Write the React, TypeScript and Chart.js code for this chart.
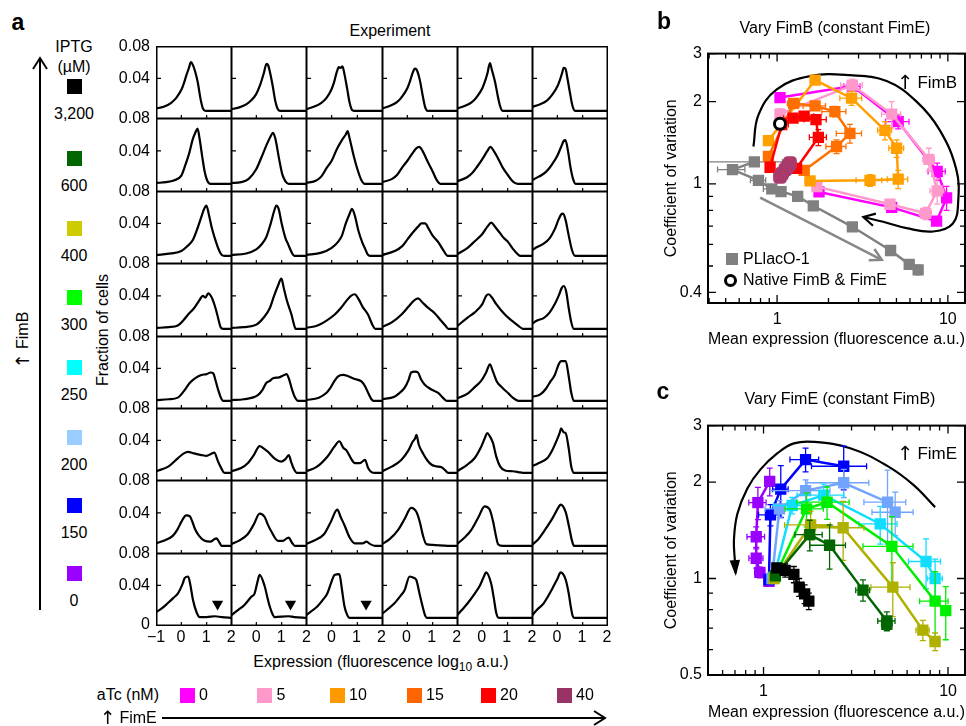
import React, { useEffect, useRef } from 'react';
import { Chart, registerables } from 'chart.js';

Chart.register(...registerables);

const FONT = '"Liberation Sans", Arial, Helvetica, sans-serif';
const FS = 16;

// ---------------- Panel a data ----------------
const ATC_LABELS = ['0', '5', '10', '15', '20', '40'];
const ATC_COLORS = ['#ff00ff', '#ff99cc', '#ff9900', '#ff6600', '#ff0000', '#993366'];
const IPTG_LABELS = ['3,200', '600', '400', '300', '250', '200', '150', '0'];
const IPTG_COLORS = ['#000000', '#006600', '#cccc00', '#00ff00', '#00ffff', '#99ccff', '#0000ff', '#9900ff'];
const HIST_X_TICKS = [-1, 0, 1, 2];
const HIST_X_MIN = -1;
const HIST_X_MAX = 2;
const HIST_Y_MIN = -0.01;
const HIST_Y_MAX = 0.08;
const HIST_Y_TICKS = [0.04, 0.08];

type Pt = [number, number];

const HIST_IPTG_3200: Pt[][] = [
  [[-1,0.003],[-0.7,0.005],[-0.4,0.01],[-0.2,0.016],[0,0.026],[0.1,0.034],[0.2,0.044],[0.3,0.053],[0.38,0.06],[0.45,0.057],[0.55,0.048],[0.65,0.035],[0.75,0.016],[0.85,0.003],[0.95,0],[2,0]],
  [[-1,0.002],[-0.7,0.004],[-0.4,0.008],[-0.2,0.013],[0,0.021],[0.15,0.032],[0.3,0.047],[0.4,0.058],[0.47,0.056],[0.55,0.046],[0.65,0.03],[0.75,0.012],[0.85,0.002],[0.95,0],[2,0]],
  [[-1,0.002],[-0.7,0.005],[-0.4,0.01],[-0.2,0.016],[0,0.027],[0.1,0.036],[0.2,0.048],[0.28,0.054],[0.35,0.053],[0.42,0.055],[0.5,0.045],[0.6,0.028],[0.7,0.01],[0.8,0.001],[0.9,0],[2,0]],
  [[-1,0.003],[-0.7,0.006],[-0.4,0.011],[-0.2,0.018],[0,0.028],[0.1,0.036],[0.2,0.046],[0.3,0.052],[0.38,0.05],[0.5,0.037],[0.6,0.02],[0.7,0.005],[0.8,0],[2,0]],
  [[-1,0.003],[-0.7,0.006],[-0.4,0.011],[-0.2,0.018],[0,0.028],[0.1,0.036],[0.2,0.046],[0.3,0.059],[0.38,0.05],[0.5,0.036],[0.6,0.02],[0.7,0.006],[0.8,0],[2,0]],
  [[-1,0.005],[-0.7,0.008],[-0.4,0.013],[-0.2,0.02],[0,0.03],[0.1,0.038],[0.2,0.048],[0.25,0.053],[0.32,0.052],[0.4,0.04],[0.5,0.022],[0.6,0.006],[0.7,0],[2,0]],
];
const HIST_IPTG_600: Pt[][] = [
  [[-1,0.001],[-0.6,0.002],[-0.3,0.004],[0,0.01],[0.15,0.022],[0.3,0.036],[0.45,0.054],[0.55,0.062],[0.64,0.067],[0.72,0.055],[0.82,0.034],[0.92,0.015],[1.02,0.004],[1.15,0],[2,0]],
  [[-1,0.001],[-0.6,0.002],[-0.3,0.006],[0,0.018],[0.2,0.032],[0.4,0.047],[0.55,0.057],[0.66,0.062],[0.75,0.055],[0.9,0.03],[1.02,0.012],[1.15,0.003],[1.28,0],[2,0]],
  [[-1,0.001],[-0.6,0.004],[-0.4,0.009],[-0.2,0.019],[0,0.028],[0.2,0.042],[0.4,0.053],[0.55,0.06],[0.62,0.064],[0.7,0.055],[0.85,0.035],[1.0,0.018],[1.15,0.005],[1.29,0],[2,0]],
  [[-1,0.002],[-0.6,0.006],[-0.4,0.011],[-0.2,0.02],[0,0.028],[0.2,0.037],[0.35,0.043],[0.47,0.045],[0.6,0.04],[0.8,0.027],[1.0,0.015],[1.15,0.005],[1.3,0],[2,0]],
  [[-1,0.003],[-0.6,0.008],[-0.4,0.013],[-0.2,0.021],[0,0.03],[0.2,0.04],[0.32,0.045],[0.45,0.04],[0.6,0.032],[0.8,0.02],[1.0,0.011],[1.2,0.003],[1.4,0],[2,0]],
  [[-1,0.004],[-0.9,0.006],[-0.6,0.011],[-0.4,0.016],[-0.2,0.024],[0,0.034],[0.15,0.045],[0.25,0.052],[0.32,0.053],[0.42,0.04],[0.52,0.02],[0.62,0.006],[0.72,0],[2,0]],
];
const HIST_IPTG_400: Pt[][] = [
  [[-1,0.001],[-0.4,0.003],[0,0.006],[0.2,0.011],[0.46,0.02],[0.65,0.035],[0.79,0.048],[0.9,0.058],[0.99,0.062],[1.08,0.052],[1.2,0.035],[1.39,0.015],[1.5,0.006],[1.6,0.001],[1.7,0],[2,0]],
  [[-1,0.001],[-0.4,0.003],[0,0.008],[0.2,0.014],[0.39,0.023],[0.55,0.038],[0.7,0.055],[0.79,0.062],[0.88,0.058],[1.0,0.04],[1.15,0.022],[1.26,0.014],[1.4,0.004],[1.5,0],[2,0]],
  [[-1,0.001],[-0.4,0.004],[0,0.01],[0.24,0.017],[0.4,0.025],[0.55,0.04],[0.7,0.052],[0.79,0.058],[0.9,0.05],[1.05,0.03],[1.2,0.016],[1.3,0.009],[1.4,0.002],[1.5,0],[2,0]],
  [[-1,0.001],[-0.5,0.006],[-0.2,0.012],[0.02,0.021],[0.25,0.03],[0.45,0.037],[0.55,0.04],[0.7,0.04],[0.85,0.033],[1.0,0.025],[1.22,0.017],[1.4,0.008],[1.6,0],[2,0]],
  [[-1,0.002],[-0.58,0.01],[-0.3,0.018],[0,0.027],[0.2,0.036],[0.35,0.041],[0.5,0.036],[0.7,0.028],[0.85,0.022],[1.02,0.017],[1.2,0.009],[1.4,0.002],[1.5,0],[2,0]],
  [[-1,0.007],[-0.8,0.011],[-0.54,0.015],[-0.3,0.022],[-0.1,0.033],[0.05,0.045],[0.15,0.051],[0.22,0.052],[0.32,0.045],[0.45,0.025],[0.58,0.007],[0.7,0],[2,0]],
];
const HIST_IPTG_300: Pt[][] = [
  [[-1,0.001],[-0.5,0.002],[-0.14,0.004],[0.1,0.011],[0.26,0.017],[0.5,0.025],[0.7,0.034],[0.85,0.04],[0.95,0.038],[1.06,0.043],[1.2,0.038],[1.35,0.025],[1.46,0.012],[1.55,0.002],[1.65,0],[2,0]],
  [[-1,0.001],[-0.5,0.002],[0,0.005],[0.3,0.014],[0.53,0.025],[0.7,0.04],[0.85,0.052],[0.99,0.061],[1.08,0.05],[1.2,0.035],[1.39,0.017],[1.48,0.006],[1.55,0],[2,0]],
  [[-1,0.001],[-0.55,0.004],[-0.2,0.01],[0.11,0.017],[0.35,0.025],[0.55,0.033],[0.75,0.04],[0.9,0.042],[1.05,0.036],[1.2,0.027],[1.42,0.017],[1.6,0.004],[1.7,0],[2,0]],
  [[-1,0.002],[-0.6,0.008],[-0.24,0.017],[0.05,0.027],[0.25,0.034],[0.42,0.037],[0.6,0.032],[0.8,0.026],[1.08,0.019],[1.3,0.011],[1.5,0.004],[1.62,0],[2,0]],
  [[-1,0.003],[-0.57,0.014],[-0.3,0.02],[0,0.03],[0.15,0.04],[0.25,0.042],[0.38,0.038],[0.55,0.03],[0.9,0.017],[1.2,0.009],[1.45,0.003],[1.6,0],[2,0]],
  [[-1,0.006],[-0.8,0.01],[-0.54,0.013],[-0.3,0.02],[-0.1,0.03],[0.05,0.04],[0.18,0.05],[0.26,0.052],[0.35,0.045],[0.45,0.025],[0.55,0.008],[0.65,0],[2,0]],
];
const HIST_IPTG_250: Pt[][] = [
  [[-1,0.001],[-0.5,0.002],[-0.14,0.004],[0.1,0.012],[0.33,0.022],[0.55,0.028],[0.79,0.032],[1.0,0.033],[1.15,0.035],[1.26,0.034],[1.36,0.024],[1.46,0.013],[1.56,0.004],[1.65,0],[2,0]],
  [[-1,0.001],[-0.5,0.002],[0.06,0.007],[0.25,0.014],[0.39,0.022],[0.55,0.025],[0.66,0.028],[0.9,0.029],[1.1,0.032],[1.19,0.033],[1.3,0.026],[1.39,0.016],[1.5,0.006],[1.65,0],[2,0]],
  [[-1,0.001],[-0.5,0.004],[-0.2,0.01],[-0.05,0.016],[0.1,0.024],[0.24,0.03],[0.45,0.032],[0.6,0.031],[0.9,0.027],[1.16,0.024],[1.3,0.018],[1.42,0.01],[1.55,0.002],[1.63,0],[2,0]],
  [[-1,0.002],[-0.51,0.005],[-0.3,0.01],[-0.11,0.016],[0.05,0.026],[0.15,0.035],[0.3,0.036],[0.42,0.035],[0.55,0.026],[0.69,0.02],[0.9,0.015],[1.08,0.012],[1.25,0.009],[1.4,0.004],[1.55,0],[2,0]],
  [[-1,0.003],[-0.58,0.009],[-0.3,0.017],[-0.04,0.025],[0.15,0.035],[0.3,0.045],[0.42,0.036],[0.57,0.024],[0.8,0.016],[1.04,0.009],[1.2,0.004],[1.43,0],[2,0]],
  [[-1,0.005],[-0.67,0.008],[-0.45,0.015],[-0.27,0.024],[-0.1,0.032],[0.05,0.045],[0.15,0.049],[0.33,0.049],[0.45,0.03],[0.55,0.01],[0.65,0],[2,0]],
];
const HIST_IPTG_200: Pt[][] = [
  [[-1,0.002],[-0.5,0.008],[-0.14,0.018],[0.1,0.024],[0.26,0.026],[0.5,0.024],[0.79,0.022],[1.0,0.021],[1.15,0.023],[1.3,0.025],[1.45,0.014],[1.59,0.005],[1.7,0],[2,0]],
  [[-1,0.002],[-0.6,0.006],[-0.34,0.012],[-0.1,0.022],[0.13,0.033],[0.3,0.03],[0.46,0.026],[0.75,0.017],[0.99,0.014],[1.15,0.017],[1.28,0.022],[1.37,0.014],[1.45,0.007],[1.6,0],[2,0]],
  [[-1,0.002],[-0.6,0.007],[-0.17,0.02],[0.1,0.032],[0.3,0.039],[0.45,0.031],[0.57,0.028],[0.75,0.018],[0.9,0.012],[1.1,0.012],[1.3,0.016],[1.42,0.006],[1.55,0.001],[1.7,0],[2,0]],
  [[-1,0.002],[-0.6,0.008],[-0.24,0.016],[0.05,0.028],[0.22,0.039],[0.3,0.042],[0.36,0.047],[0.45,0.035],[0.62,0.024],[0.8,0.015],[0.96,0.01],[1.15,0.008],[1.35,0.007],[1.5,0.003],[1.61,0],[2,0]],
  [[-1,0.002],[-0.6,0.01],[-0.31,0.018],[-0.05,0.032],[0.1,0.043],[0.19,0.049],[0.3,0.045],[0.42,0.037],[0.55,0.02],[0.7,0.008],[0.9,0.003],[1.2,0.002],[1.42,0.001],[1.6,0],[2,0]],
  [[-1,0.008],[-0.75,0.012],[-0.4,0.018],[-0.2,0.028],[0,0.042],[0.1,0.05],[0.15,0.055],[0.25,0.05],[0.33,0.049],[0.45,0.03],[0.55,0.008],[0.66,0],[2,0]],
];
const HIST_IPTG_150: Pt[][] = [
  [[-1,0.003],[-0.7,0.006],[-0.34,0.012],[-0.15,0.02],[0,0.029],[0.19,0.037],[0.33,0.036],[0.45,0.028],[0.53,0.021],[0.7,0.012],[0.92,0.006],[1.15,0.005],[1.3,0.008],[1.39,0.009],[1.5,0.004],[1.59,0],[2,0]],
  [[-1,0.002],[-0.7,0.006],[-0.34,0.014],[-0.1,0.026],[0.13,0.039],[0.33,0.035],[0.45,0.026],[0.6,0.017],[0.86,0.006],[1.05,0.006],[1.2,0.009],[1.28,0.01],[1.4,0.004],[1.52,0],[2,0]],
  [[-1,0.002],[-0.7,0.006],[-0.3,0.014],[-0.05,0.028],[0.22,0.044],[0.35,0.035],[0.5,0.025],[0.7,0.01],[0.9,0.003],[1.2,0.003],[1.36,0.005],[1.5,0.002],[1.69,0],[2,0]],
  [[-1,0.002],[-0.7,0.008],[-0.37,0.019],[-0.1,0.033],[0.15,0.046],[0.36,0.041],[0.5,0.028],[0.62,0.012],[0.75,0.002],[1.0,0.001],[1.6,0],[2,0]],
  [[-1,0.002],[-0.7,0.01],[-0.44,0.019],[-0.15,0.035],[0.09,0.048],[0.29,0.044],[0.42,0.03],[0.55,0.01],[0.62,0.002],[0.8,0],[2,0]],
  [[-1,0.001],[-0.75,0.008],[-0.54,0.017],[-0.2,0.033],[0.05,0.047],[0.13,0.05],[0.33,0.041],[0.45,0.025],[0.58,0.006],[0.66,0],[2,0]],
];
const HIST_IPTG_0: Pt[][] = [
  [[-1,0.007],[-0.8,0.011],[-0.54,0.018],[-0.3,0.025],[-0.14,0.03],[0.05,0.042],[0.13,0.049],[0.27,0.051],[0.36,0.04],[0.46,0.022],[0.6,0.007],[0.73,0.001],[1.0,0.001],[1.32,0.002],[1.6,0.001],[2,0]],
  [[-1,0.003],[-0.75,0.009],[-0.47,0.016],[-0.2,0.026],[-0.07,0.03],[0.05,0.045],[0.13,0.053],[0.33,0.039],[0.43,0.026],[0.53,0.014],[0.65,0.004],[0.73,0.001],[1.26,0.002],[1.5,0.001],[2,0]],
  [[-1,0.003],[-0.8,0.008],[-0.56,0.014],[-0.3,0.024],[-0.17,0.03],[0,0.045],[0.11,0.053],[0.3,0.054],[0.4,0.035],[0.5,0.014],[0.6,0.004],[0.7,0],[2,0]],
  [[-1,0.005],[-0.8,0.01],[-0.51,0.018],[-0.25,0.028],[-0.11,0.034],[0.09,0.051],[0.2,0.05],[0.35,0.047],[0.48,0.03],[0.62,0.012],[0.7,0.003],[0.77,0],[2,0]],
  [[-1,0.003],[-0.8,0.01],[-0.58,0.018],[-0.3,0.03],[-0.11,0.039],[0.05,0.05],[0.15,0.056],[0.35,0.042],[0.45,0.025],[0.55,0.006],[0.65,0],[2,0]],
  [[-1,0.003],[-0.8,0.01],[-0.54,0.018],[-0.2,0.036],[0,0.048],[0.13,0.056],[0.33,0.047],[0.45,0.03],[0.53,0.014],[0.6,0.003],[0.66,0],[2,0]],
];
const HIST_ROWS = [HIST_IPTG_3200, HIST_IPTG_600, HIST_IPTG_400, HIST_IPTG_300, HIST_IPTG_250, HIST_IPTG_200, HIST_IPTG_150, HIST_IPTG_0];
// triangles marking the high-expression sub-population (IPTG 0 row)
const HIST_MARKERS_IPTG0: (Pt | null)[] = [[1.43, 0.017], [1.35, 0.017], [1.34, 0.017], null, null, null];

// ---------------- Panel b data (vary FimB) ----------------
const B_X_TICKS = [0.4,0.5,0.6,0.7,0.8,0.9,1,2,3,4,5,6,7,8,9,10];
const B_X_LABELS = ['','','','','','','1','','','','','','','','','10'];
const B_Y_TICKS = [0.4,0.5,0.6,0.7,0.8,0.9,1,2,3];
const B_Y_LABELS = ['0.4','','','','','','1','2','3'];

const B_PLLACO_X = [0.736, 0.548, 0.778, 0.931, 1.055, 1.32, 1.63, 2.76, 4.62, 5.94, 6.70];
const B_PLLACO_Y = [1.203, 1.128, 1.03, 0.958, 0.937, 0.900, 0.831, 0.696, 0.570, 0.507, 0.484];
const B_PLLACO_XE = [0.34, 0.1, 0.08, 0.1, 0.06, 0.05, 0.05, 0.15, 0.2, 0.2, 0.2];
const B_PLLACO_YE = [0.02, 0.02, 0.02, 0.02, 0.02, 0.02, 0.02, 0.02, 0.02, 0.02, 0.02];

const B_ATC0_X = [1.04, 2.76, 5.12, 8.66, 9.83, 8.59, 4.69, 1.76];
const B_ATC0_Y = [2.07, 2.28, 1.69, 1.11, 0.889, 0.73, 0.82, 0.934];
const B_ATC0_XE = [0.04, 0.3, 0.8, 1.0, 0.6, 0.3, 0.2, 0.05];
const B_ATC0_YE = [0.05, 0.1, 0.1, 0.08, 0.09, 0.02, 0.02, 0.02];

const B_ATC5_X = [1.04, 2.76, 4.69, 7.74, 8.66, 7.41, 4.58, 1.71];
const B_ATC5_Y = [1.80, 2.30, 1.80, 1.23, 0.943, 0.78, 0.842, 0.977];
const B_ATC5_XE = [0.05, 0.4, 0.6, 0.6, 0.8, 0.6, 0.3, 0.1];
const B_ATC5_YE = [0.08, 0.12, 0.2, 0.12, 0.1, 0.04, 0.03, 0.03];

const B_ATC10_X = [0.89, 1.67, 2.73, 4.28, 5.01, 5.12, 3.50, 1.56];
const B_ATC10_Y = [1.44, 2.40, 2.06, 1.57, 1.35, 1.04, 1.03, 1.025];
const B_ATC10_XE = [0.03, 0.1, 0.4, 0.4, 0.5, 0.7, 0.6, 0.1];
const B_ATC10_YE = [0.05, 0.05, 0.12, 0.12, 0.1, 0.08, 0.05, 0.03];

const B_ATC15_X = [0.89, 1.25, 1.67, 2.18, 2.67, 2.23, 1.44];
const B_ATC15_Y = [1.26, 1.97, 1.93, 1.84, 1.53, 1.37, 1.12];
const B_ATC15_XE = [0.03, 0.1, 0.25, 0.35, 0.45, 0.3, 0.1];
const B_ATC15_YE = [0.03, 0.05, 0.06, 0.08, 0.12, 0.08, 0.03];

const B_ATC20_X = [0.91, 1.065, 1.24, 1.44, 1.69, 1.745, 1.30];
const B_ATC20_Y = [1.15, 1.65, 1.74, 1.77, 1.72, 1.48, 1.14];
const B_ATC20_XE = [0.05, 0.1, 0.15, 0.2, 0.25, 0.2, 0.05];
const B_ATC20_YE = [0.03, 0.05, 0.04, 0.05, 0.05, 0.1, 0.03];

const B_ATC40_X = [1.04, 1.07, 1.12, 1.16, 1.19];
const B_ATC40_Y = [1.06, 1.09, 1.13, 1.16, 1.19];

const B_NATIVE_X = [1.04];
const B_NATIVE_Y = [1.66];

const B_CURVE_X = [0.727, 0.778, 0.996, 1.56, 2.67, 4.38, 6.56, 8.98, 11.2, 11.5, 10.7, 8.2, 5.73, 4.18, 3.20];
const B_CURVE_Y = [1.37, 1.79, 2.22, 2.48, 2.50, 2.38, 2.00, 1.57, 1.13, 0.865, 0.716, 0.669, 0.688, 0.726, 0.756];
const B_GRAY_ARROW_X = [0.796, 4.10];
const B_GRAY_ARROW_Y = [0.891, 0.527];

// ---------------- Panel c data (vary FimE) ----------------
const C_X_TICKS = [0.5,0.6,0.7,0.8,0.9,1,2,3,4,5,6,7,8,9,10];
const C_X_LABELS = ['','','','','','1','','','','','','','','','10'];
const C_Y_TICKS = [0.5,0.6,0.7,0.8,0.9,1,2,3];
const C_Y_LABELS = ['0.5','','','','','1','2','3'];

const C_IPTG0_X = [1.07, 0.955, 0.913, 0.913, 0.932, 1.08];
const C_IPTG0_Y = [0.98, 1.045, 1.157, 1.35, 1.726, 2.01];
const C_IPTG0_XE = [0.05, 0.06, 0.08, 0.1, 0.1, 0.05];
const C_IPTG0_YE = [0.03, 0.04, 0.08, 0.1, 0.2, 0.2];

const C_IPTG150_X = [1.07, 1.09, 1.24, 1.69, 2.72];
const C_IPTG150_Y = [0.993, 1.58, 1.90, 2.35, 2.24];
const C_IPTG150_XE = [0.05, 0.15, 0.12, 0.3, 0.9];
const C_IPTG150_YE = [0.03, 0.12, 0.35, 0.2, 0.35];

const C_IPTG200_X = [1.11, 1.22, 1.69, 2.72, 4.70, 5.17];
const C_IPTG200_Y = [1.0, 1.65, 1.88, 1.99, 1.73, 1.61];
const C_IPTG200_XE = [0.05, 0.2, 0.6, 1.0, 1.2, 1.3];
const C_IPTG200_YE = [0.03, 0.1, 0.15, 0.2, 0.45, 0.25];

const C_IPTG250_X = [1.14, 1.43, 2.12, 4.29, 7.60, 8.51];
const C_IPTG250_Y = [1.01, 1.69, 1.82, 1.48, 1.13, 1.0];
const C_IPTG250_XE = [0.05, 0.3, 0.6, 1.0, 1.5, 0.8];
const C_IPTG250_YE = [0.03, 0.1, 0.15, 0.2, 0.2, 0.15];

const C_IPTG300_X = [1.15, 1.71, 2.21, 4.96, 8.51, 9.72];
const C_IPTG300_Y = [1.01, 1.65, 1.73, 1.26, 0.85, 0.794];
const C_IPTG300_XE = [0.05, 0.4, 0.7, 1.5, 1.5, 0.3];
const C_IPTG300_YE = [0.03, 0.2, 0.2, 0.3, 0.2, 0.15];

const C_IPTG400_X = [1.14, 1.80, 2.70, 5.02, 7.30, 8.51];
const C_IPTG400_Y = [1.0, 1.47, 1.44, 0.94, 0.69, 0.636];
const C_IPTG400_XE = [0.05, 0.5, 0.8, 1.2, 0.6, 0.5];
const C_IPTG400_YE = [0.03, 0.15, 0.3, 0.18, 0.05, 0.04];

const C_IPTG600_X = [1.16, 1.78, 2.28, 3.46, 4.66, 4.66];
const C_IPTG600_Y = [1.02, 1.37, 1.27, 0.92, 0.737, 0.72];
const C_IPTG600_XE = [0.05, 0.3, 0.5, 0.3, 0.5, 0.3];
const C_IPTG600_YE = [0.03, 0.15, 0.2, 0.07, 0.05, 0.03];

const C_IPTG3200_X = [1.18, 1.31, 1.46, 1.56, 1.67, 1.76];
const C_IPTG3200_Y = [1.08, 1.06, 1.03, 0.94, 0.895, 0.85];
const C_IPTG3200_XE = [0.05, 0.05, 0.05, 0.05, 0.05, 0.05];
const C_IPTG3200_YE = [0.03, 0.05, 0.06, 0.06, 0.06, 0.05];

const C_CURVE_X = [8.51, 6.49, 4.66, 2.95, 1.87, 1.46, 1.19, 0.963, 0.817, 0.721, 0.691, 0.70, 0.706];
const C_CURVE_Y = [1.67, 1.96, 2.25, 2.55, 2.67, 2.64, 2.46, 2.19, 1.91, 1.59, 1.32, 1.125, 1.04];

// ---------------- layout constants ----------------
const GRID_LEFT = 156;
const GRID_TOP = 46;
const CELL_W = 75.17;
const CELL_H = 72.4;

// ---------------- plugins ----------------
const cellFrame = {
  id: 'cellFrame',
  afterDraw(chart: any) {
    const { ctx, chartArea, scales } = chart;
    const { left, top, right, bottom } = chartArea;
    ctx.save();
    ctx.strokeStyle = '#000';
    ctx.lineWidth = 1.5;
    ctx.strokeRect(left + 0.75, top + 0.75, right - left - 1.5, bottom - top - 1.5);
    ctx.lineWidth = 1.2;
    ctx.beginPath();
    HIST_X_TICKS.filter((v) => v > HIST_X_MIN && v < HIST_X_MAX).forEach((v) => {
      const px = scales.x.getPixelForValue(v);
      ctx.moveTo(px, bottom);
      ctx.lineTo(px, bottom - 4);
    });
    HIST_Y_TICKS.filter((v) => v < HIST_Y_MAX).forEach((v) => {
      const py = scales.y.getPixelForValue(v);
      ctx.moveTo(left, py);
      ctx.lineTo(left + 5, py);
    });
    ctx.stroke();
    ctx.restore();
  },
};

const logFrame = {
  id: 'logFrame',
  afterDraw(chart: any) {
    const { ctx, chartArea: a, scales } = chart;
    ctx.save();
    ctx.strokeStyle = '#000';
    ctx.lineWidth = 1.3;
    ctx.beginPath();
    scales.x.ticks.forEach((t: any) => {
      const px = scales.x.getPixelForValue(t.value);
      const len = t.label ? 8 : 5;
      ctx.moveTo(px, a.bottom); ctx.lineTo(px, a.bottom - len);
      ctx.moveTo(px, a.top); ctx.lineTo(px, a.top + len);
    });
    scales.y.ticks.forEach((t: any) => {
      const py = scales.y.getPixelForValue(t.value);
      const len = t.label ? 8 : 5;
      ctx.moveTo(a.left, py); ctx.lineTo(a.left + len, py);
      ctx.moveTo(a.right, py); ctx.lineTo(a.right - len, py);
    });
    ctx.stroke();
    ctx.lineWidth = 2;
    ctx.strokeRect(a.left, a.top, a.right - a.left, a.bottom - a.top);
    ctx.restore();
  },
};

const errorBars = {
  id: 'errorBars',
  beforeDatasetDraw(chart: any, args: any) {
    const ds = chart.data.datasets[args.index];
    if (!ds.xErr && !ds.yErr) return;
    const { ctx, chartArea: a, scales: { x, y } } = chart;
    ctx.save();
    ctx.beginPath();
    ctx.rect(a.left, a.top, a.right - a.left, a.bottom - a.top);
    ctx.clip();
    ctx.strokeStyle = ds.borderColor;
    ctx.lineWidth = 1.3;
    const cap = 3;
    ds.data.forEach((p: any, i: number) => {
      const cx = x.getPixelForValue(p.x);
      const cy = y.getPixelForValue(p.y);
      const xe = ds.xErr ? ds.xErr[i] : 0;
      const ye = ds.yErr ? ds.yErr[i] : 0;
      ctx.beginPath();
      if (xe > 0) {
        const l = x.getPixelForValue(Math.max(p.x - xe, x.min * 0.98));
        const r = x.getPixelForValue(p.x + xe);
        ctx.moveTo(l, cy); ctx.lineTo(r, cy);
        ctx.moveTo(l, cy - cap); ctx.lineTo(l, cy + cap);
        ctx.moveTo(r, cy - cap); ctx.lineTo(r, cy + cap);
      }
      if (ye > 0) {
        const t = y.getPixelForValue(p.y + ye);
        const b = y.getPixelForValue(Math.max(p.y - ye, y.min * 0.98));
        ctx.moveTo(cx, t); ctx.lineTo(cx, b);
        ctx.moveTo(cx - cap, t); ctx.lineTo(cx + cap, t);
        ctx.moveTo(cx - cap, b); ctx.lineTo(cx + cap, b);
      }
      ctx.stroke();
    });
    ctx.restore();
  },
};

const arrowHeads = {
  id: 'arrowHeads',
  afterDatasetsDraw(chart: any) {
    const ctx = chart.ctx;
    chart.data.datasets.forEach((ds: any, i: number) => {
      if (!ds.arrow) return;
      const pts = chart.getDatasetMeta(i).data;
      const n = pts.length;
      const p1 = pts[n - 2];
      const p2 = pts[n - 1];
      const ang = Math.atan2(p2.y - p1.y, p2.x - p1.x);
      ctx.save();
      ctx.strokeStyle = ds.borderColor;
      ctx.fillStyle = ds.borderColor;
      ctx.lineWidth = ds.borderWidth;
      ctx.lineJoin = 'miter';
      if (ds.arrow === 'open') {
        const L = 13, h = 0.5;
        ctx.beginPath();
        ctx.moveTo(p2.x - L * Math.cos(ang - h), p2.y - L * Math.sin(ang - h));
        ctx.lineTo(p2.x, p2.y);
        ctx.lineTo(p2.x - L * Math.cos(ang + h), p2.y - L * Math.sin(ang + h));
        ctx.stroke();
      } else {
        const L = 14, h = 0.38;
        ctx.beginPath();
        ctx.moveTo(p2.x + 3 * Math.cos(ang), p2.y + 3 * Math.sin(ang));
        ctx.lineTo(p2.x - L * Math.cos(ang - h), p2.y - L * Math.sin(ang - h));
        ctx.lineTo(p2.x - L * Math.cos(ang + h), p2.y - L * Math.sin(ang + h));
        ctx.closePath();
        ctx.fill();
      }
      ctx.restore();
    });
  },
};

// ---------------- helpers ----------------
const toXY = (xs: number[], ys: number[]) => xs.map((x, i) => ({ x, y: ys[i] }));

function series(xs: number[], ys: number[], xe: number[] | null, ye: number[] | null, color: string, extra: any = {}) {
  return {
    data: toXY(xs, ys),
    xErr: xe,
    yErr: ye,
    borderColor: color,
    backgroundColor: color,
    showLine: true,
    borderWidth: 2.5,
    pointStyle: 'rect',
    pointRadius: 8,
    pointBorderWidth: 0,
    tension: 0,
    ...extra,
  };
}

function curve(xs: number[], ys: number[], color: string, arrow: string, width = 2) {
  return {
    data: toXY(xs, ys),
    borderColor: color,
    backgroundColor: color,
    showLine: true,
    borderWidth: width,
    pointRadius: 0,
    tension: 0.4,
    arrow,
  };
}

function logConfig(p: any) {
  const tickFont = { size: FS, family: FONT };
  return {
    type: 'scatter',
    data: { datasets: p.datasets },
    options: {
      animation: false,
      responsive: false,
      devicePixelRatio: 1,
      events: [],
      layout: { autoPadding: false, padding: { top: p.padTop, right: p.padRight, left: 0, bottom: 0 } },
      plugins: { legend: { display: false }, tooltip: { enabled: false } },
      scales: {
        x: {
          type: 'logarithmic',
          min: p.xMin,
          max: p.xMax,
          afterBuildTicks: (s: any) => { s.ticks = p.xTicks.map((v: number) => ({ value: v })); },
          afterFit: (s: any) => { s.height = p.xAxisH; },
          ticks: {
            autoSkip: false, maxRotation: 0, minRotation: 0, padding: 7, color: '#000', font: tickFont,
            callback: (_v: any, i: number) => p.xLabels[i],
          },
          grid: { display: false, drawTicks: false },
          border: { display: false },
          title: { display: true, text: p.xTitle, color: '#000', font: tickFont, padding: { top: 0, bottom: p.xTitlePad } },
        },
        y: {
          type: 'logarithmic',
          min: p.yMin,
          max: p.yMax,
          afterBuildTicks: (s: any) => { s.ticks = p.yTicks.map((v: number) => ({ value: v })); },
          afterFit: (s: any) => { s.width = p.yAxisW; },
          ticks: {
            autoSkip: false, padding: 6, color: '#000', font: tickFont,
            callback: (_v: any, i: number) => p.yLabels[i],
          },
          grid: { display: false, drawTicks: false },
          border: { display: false },
          title: { display: true, text: 'Coefficient of variation', color: '#000', font: tickFont, padding: { top: 1.5, bottom: 0 } },
        },
      },
    },
    plugins: [errorBars, arrowHeads, logFrame],
  };
}

function ChartCanvas({ left, top, width, height, make }: any) {
  const ref = useRef<HTMLCanvasElement>(null);
  useEffect(() => {
    const chart = new Chart(ref.current as HTMLCanvasElement, make());
    return () => chart.destroy();
  }, []);
  return <canvas ref={ref} width={width} height={height} style={{ position: 'absolute', left, top, width, height }} />;
}

function histConfig(pts: Pt[], marker: Pt | null) {
  const datasets: any[] = [];
  if (marker) {
    datasets.push({
      data: [{ x: marker[0], y: marker[1] }],
      showLine: false,
      pointStyle: 'triangle',
      rotation: 180,
      pointRadius: 6.5,
      backgroundColor: '#000',
      borderColor: '#000',
      pointBorderWidth: 0,
    });
  }
  datasets.push({
    data: pts.map(([x, y]) => ({ x, y })),
    showLine: true,
    borderColor: '#000',
    borderWidth: 2.2,
    pointRadius: 0,
    cubicInterpolationMode: 'monotone',
    fill: false,
  });
  return {
    type: 'scatter',
    data: { datasets },
    options: {
      animation: false,
      responsive: false,
      devicePixelRatio: 1,
      events: [],
      layout: { autoPadding: false, padding: 0 },
      plugins: { legend: { display: false }, tooltip: { enabled: false } },
      scales: {
        x: { type: 'linear', min: HIST_X_MIN, max: HIST_X_MAX, display: false },
        y: { type: 'linear', min: HIST_Y_MIN, max: HIST_Y_MAX, display: false },
      },
    },
    plugins: [cellFrame],
  };
}

function Txt({ x, y, children, size = FS, align = 'center', bold = false, rotate = 0 }: any) {
  const tx = align === 'center' ? '-50%' : align === 'right' ? '-100%' : '0';
  return (
    <div
      style={{
        position: 'absolute', left: x, top: y,
        transform: `translate(${tx}, -50%) rotate(${rotate}deg)`,
        fontSize: size, fontFamily: FONT, fontWeight: bold ? 700 : 400,
        whiteSpace: 'nowrap', lineHeight: 1.15, color: '#000',
      }}
    >
      {children}
    </div>
  );
}

const Arrow = () => (
  <span style={{ fontFamily: '"DejaVu Sans", sans-serif', fontSize: '1.15em', marginRight: 4, position: 'relative', top: 1 }}>↑</span>
);

function Square({ cx, cy, size, color }: any) {
  return <div style={{ position: 'absolute', left: cx - size / 2, top: cy - size / 2, width: size, height: size, background: color }} />;
}

export default function App() {
  const cells: any[] = [];
  HIST_ROWS.forEach((row, r) => {
    row.forEach((pts, c) => {
      const x0 = Math.round(GRID_LEFT + c * CELL_W);
      const x1 = Math.round(GRID_LEFT + (c + 1) * CELL_W);
      const y0 = Math.round(GRID_TOP + r * CELL_H);
      const y1 = Math.round(GRID_TOP + (r + 1) * CELL_H);
      const marker = r === HIST_ROWS.length - 1 ? HIST_MARKERS_IPTG0[c] : null;
      cells.push(
        <ChartCanvas key={`c${r}-${c}`} left={x0} top={y0} width={x1 - x0 + 1} height={y1 - y0 + 1}
          make={() => histConfig(pts, marker)} />
      );
    });
  });

  const yPix = (v: number, r: number) => GRID_TOP + r * CELL_H + ((HIST_Y_MAX - v) / (HIST_Y_MAX - HIST_Y_MIN)) * CELL_H;
  const yLabels: any[] = [];
  HIST_ROWS.forEach((_, r) => {
    yLabels.push(<Txt key={`y8-${r}`} x={150} y={yPix(0.08, r)} align="right">0.08</Txt>);
    yLabels.push(<Txt key={`y4-${r}`} x={150} y={yPix(0.04, r)} align="right">0.04</Txt>);
  });
  yLabels.push(<Txt key="y0" x={150} y={624} align="right">0</Txt>);

  const xLabels: any[] = [];
  ATC_LABELS.forEach((_, c) => {
    HIST_X_TICKS.forEach((v) => {
      if (c > 0 && v === HIST_X_MIN) return;
      const px = GRID_LEFT + c * CELL_W + ((v - HIST_X_MIN) / (HIST_X_MAX - HIST_X_MIN)) * CELL_W;
      xLabels.push(<Txt key={`x${c}-${v}`} x={px} y={637}>{v < 0 ? `\u2212${-v}` : `${v}`}</Txt>);
    });
  });

  const iptgSquareY = [86, 158, 228, 297, 367, 437, 505, 573];
  const atcSquareX = [187, 264.5, 337, 414, 488, 564];

  const makeB = () => logConfig({
    datasets: [
      series(B_NATIVE_X, B_NATIVE_Y, null, null, '#000', { showLine: false, pointStyle: 'circle', pointRadius: 5.5, pointBorderWidth: 3, backgroundColor: '#fff', borderColor: '#000' }),
      series(B_ATC40_X, B_ATC40_Y, null, null, '#aa3a6c', { pointStyle: 'rectRounded', pointRadius: 8 }),
      series(B_ATC20_X, B_ATC20_Y, B_ATC20_XE, B_ATC20_YE, '#ff0000'),
      series(B_ATC15_X, B_ATC15_Y, B_ATC15_XE, B_ATC15_YE, '#ff7000'),
      series(B_ATC10_X, B_ATC10_Y, B_ATC10_XE, B_ATC10_YE, '#ffa000'),
      series(B_ATC5_X, B_ATC5_Y, B_ATC5_XE, B_ATC5_YE, '#ff99cc'),
      series(B_ATC0_X, B_ATC0_Y, B_ATC0_XE, B_ATC0_YE, '#ff00ff'),
      series(B_PLLACO_X, B_PLLACO_Y, B_PLLACO_XE, B_PLLACO_YE, '#808080'),
      curve(B_GRAY_ARROW_X, B_GRAY_ARROW_Y, '#888888', 'open', 2.5),
      curve(B_CURVE_X, B_CURVE_Y, '#000000', 'open', 2.2),
    ],
    xMin: 0.394, xMax: 12.6, yMin: 0.366, yMax: 3,
    xTicks: B_X_TICKS, xLabels: B_X_LABELS, yTicks: B_Y_TICKS, yLabels: B_Y_LABELS,
    xTitle: 'Mean expression (fluorescence a.u.)',
    padTop: 5, padRight: 1, yAxisW: 48, xAxisH: 47, xTitlePad: 0.5,
  });

  const makeC = () => logConfig({
    datasets: [
      series(C_IPTG3200_X, C_IPTG3200_Y, C_IPTG3200_XE, C_IPTG3200_YE, '#000000'),
      series(C_IPTG600_X, C_IPTG600_Y, C_IPTG600_XE, C_IPTG600_YE, '#006600'),
      series(C_IPTG400_X, C_IPTG400_Y, C_IPTG400_XE, C_IPTG400_YE, '#b0b000'),
      series(C_IPTG300_X, C_IPTG300_Y, C_IPTG300_XE, C_IPTG300_YE, '#00ee00'),
      series(C_IPTG250_X, C_IPTG250_Y, C_IPTG250_XE, C_IPTG250_YE, '#11ddff'),
      series(C_IPTG200_X, C_IPTG200_Y, C_IPTG200_XE, C_IPTG200_YE, '#70a4ff'),
      series(C_IPTG150_X, C_IPTG150_Y, C_IPTG150_XE, C_IPTG150_YE, '#0000ff'),
      series(C_IPTG0_X, C_IPTG0_Y, C_IPTG0_XE, C_IPTG0_YE, '#9900ff'),
      curve(C_CURVE_X, C_CURVE_Y, '#000000', 'filled', 2.2),
    ],
    xMin: 0.5, xMax: 12.36, yMin: 0.5, yMax: 3,
    xTicks: C_X_TICKS, xLabels: C_X_LABELS, yTicks: C_Y_TICKS, yLabels: C_Y_LABELS,
    xTitle: 'Mean expression (fluorescence a.u.)',
    padTop: 5, padRight: 1, yAxisW: 48, xAxisH: 51, xTitlePad: 3.4,
  });

  return (
    <div style={{ position: 'fixed', left: 0, top: 0, width: 966, height: 726, background: '#fff', overflow: 'hidden', fontFamily: FONT }}>
      {/* panel a */}
      <Txt x={18} y={22} size={23} bold>a</Txt>
      <Txt x={390} y={31}>Experiment</Txt>
      <Txt x={74} y={47}>IPTG</Txt>
      <Txt x={74} y={67}>(µM)</Txt>
      {IPTG_LABELS.map((lab, i) => (
        <React.Fragment key={lab}>
          <Square cx={74} cy={iptgSquareY[i]} size={15} color={IPTG_COLORS[i]} />
          <Txt x={74} y={iptgSquareY[i] + 28}>{lab}</Txt>
        </React.Fragment>
      ))}
      <Txt x={22} y={340} rotate={-90}><Arrow />FimB</Txt>
      <Txt x={103} y={330} rotate={-90}>Fraction of cells</Txt>
      {cells}
      {yLabels}
      {xLabels}
      <Txt x={381} y={664}>
        Expression (fluorescence log<span style={{ fontSize: 12, verticalAlign: -4 }}>10</span> a.u.)
      </Txt>
      <Txt x={159} y={695} align="right">aTc (nM)</Txt>
      {ATC_LABELS.map((lab, i) => (
        <React.Fragment key={lab}>
          <Square cx={atcSquareX[i]} cy={695} size={15} color={ATC_COLORS[i]} />
          <Txt x={atcSquareX[i] + 12} y={695} align="left">{lab}</Txt>
        </React.Fragment>
      ))}
      <Txt x={100} y={717} align="left"><Arrow />FimE</Txt>
      <svg width={966} height={726} style={{ position: 'absolute', left: 0, top: 0, pointerEvents: 'none' }}>
        <g stroke="#000" strokeWidth={2} fill="none">
          <line x1={40} y1={610} x2={40} y2={58} />
          <polyline points="33,69 40,58 47,69" />
          <line x1={162} y1={718} x2={605} y2={718} />
          <polyline points="594,711 605,718 594,725" />
        </g>
      </svg>

      {/* panel b */}
      <Txt x={664} y={21} size={23} bold>b</Txt>
      <Txt x={835} y={28}>Vary FimB (constant FimE)</Txt>
      <ChartCanvas left={660} top={38} width={306} height={312} make={makeB} />
      <Txt x={897} y={82} align="left" size={17}><Arrow />FimB</Txt>
      <Square cx={731.5} cy={259} size={12} color="#808080" />
      <Txt x={743} y={259} align="left">PLlacO-1</Txt>
      <div style={{ position: 'absolute', left: 724, top: 274, width: 7, height: 7, border: '3px solid #000', borderRadius: '50%', background: '#fff' }} />
      <Txt x={743} y={280} align="left">Native FimB &amp; FimE</Txt>

      {/* panel c */}
      <Txt x={663} y={391} size={23} bold>c</Txt>
      <Txt x={840} y={399}>Vary FimE (constant FimB)</Txt>
      <ChartCanvas left={660} top={410} width={306} height={316} make={makeC} />
      <Txt x={897} y={453} align="left" size={17}><Arrow />FimE</Txt>
    </div>
  );
}
